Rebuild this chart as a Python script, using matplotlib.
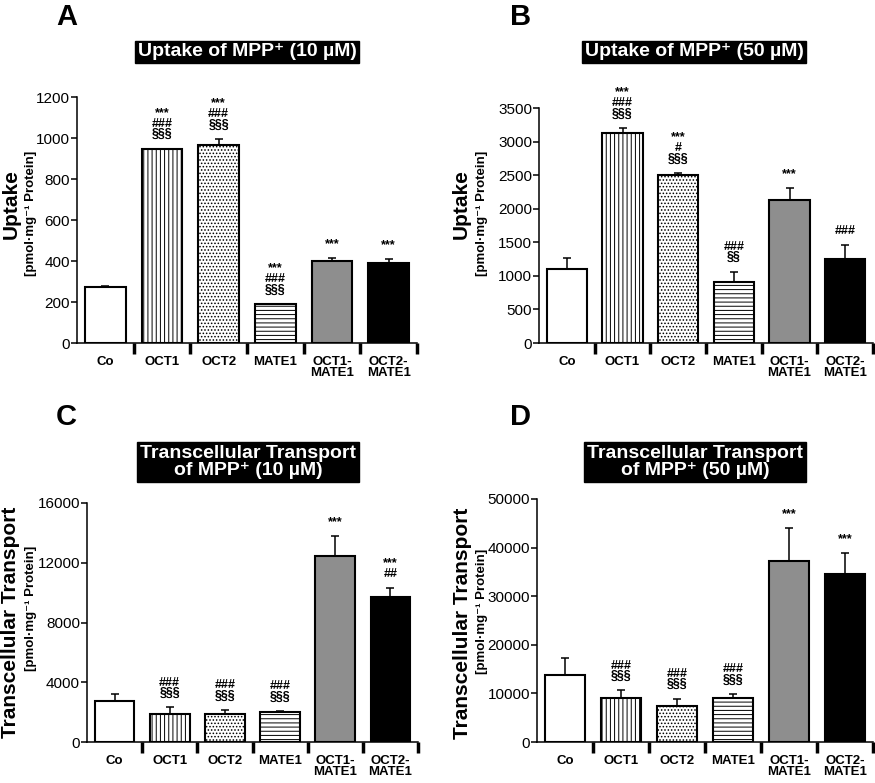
import numpy as np
import matplotlib
matplotlib.use('Agg')
import matplotlib.pyplot as plt

groups = ['Co', 'OCT1', 'OCT2', 'MATE1', 'OCT1-\nMATE1', 'OCT2-\nMATE1']

# A: uptake of MPP+ 10 uM
uptake10_mean = [272, 945, 966, 190, 398, 391]
uptake10_err = [7, 3, 28, 0, 16, 17]
uptake10_sig = ['', '***\n###\n§§§', '***\n###\n§§§', '***\n###\n§§§', '***', '***']

# B: uptake of MPP+ 50 uM
uptake50_mean = [1102, 3135, 2495, 905, 2135, 1255]
uptake50_err = [164, 70, 35, 157, 168, 200]
uptake50_sig = ['', '***\n###\n§§§', '***\n#\n§§§', '###\n§§', '***', '###']

# C: transcellular transport 10 uM
trans10_mean = [2730, 1860, 1900, 2010, 12480, 9730]
trans10_err = [450, 450, 225, 70, 1280, 590]
trans10_sig = ['', '###\n§§§', '###\n§§§', '###\n§§§', '***', '***\n##']

# D: transcellular transport 50 uM
trans50_mean = [13700, 9150, 7500, 9150, 37200, 34650]
trans50_err = [3650, 1450, 1450, 700, 6750, 4200]
trans50_sig = ['', '###\n§§§', '###\n§§§', '###\n§§§', '***', '***']

fills = ['white', 'white', 'white', 'white', '#8e8e8e', 'black']
hatches = [None, '||||', '.....', '----', None, None]

FONT = ['Liberation Sans', 'DejaVu Sans']
plt.rcParams['font.family'] = FONT
plt.rcParams['hatch.linewidth'] = 0.7


def draw_panel(ax, means, errs, sigs, ymax, ystep):
    x = np.arange(len(groups))
    ax.bar(x, means, width=0.72, color=fills, edgecolor='black', linewidth=1.5,
           hatch=hatches, zorder=2)
    ax.errorbar(x, means, yerr=[np.zeros(len(x)), errs], fmt='none', ecolor='black',
                elinewidth=1.1, capsize=3, capthick=1.1, zorder=3)
    for xi, m, e, s in zip(x, means, errs, sigs):
        if s:
            ax.annotate(s, (xi, m + e), xytext=(0, 6), textcoords='offset points',
                        ha='center', va='bottom', fontsize=9, fontweight='bold',
                        linespacing=0.85, family=FONT)
    ax.set_xlim(-0.5, 5.5)
    ax.set_ylim(0, ymax)
    ax.set_yticks(np.arange(0, ymax + 1, ystep))
    ax.set_xticks(x)
    ax.set_xticklabels(groups, fontsize=9.5, fontweight='bold', linespacing=0.95)
    ax.set_xticks(list(x[1:] - 0.5) + [5.5], minor=True)
    ax.tick_params(axis='x', which='major', length=0, pad=9)
    ax.tick_params(axis='x', which='minor', length=8, width=2.5, direction='out')
    ax.tick_params(axis='y', length=4, width=1.1, labelsize=11, pad=1)
    for side in ['top', 'right']:
        ax.spines[side].set_visible(False)
    for side in ['left', 'bottom']:
        ax.spines[side].set_linewidth(1.1)


W, H = 875, 783
fig = plt.figure(figsize=(W / 100, H / 100), dpi=100)


def rect(l, r, t, b):
    return [l / W, 1 - b / H, (r - l) / W, (b - t) / H]


axA = fig.add_axes(rect(77, 417, 97, 343))
axB = fig.add_axes(rect(539, 873, 108, 343))
axC = fig.add_axes(rect(87, 418, 503, 742))
axD = fig.add_axes(rect(537, 873, 499, 742))

draw_panel(axA, uptake10_mean, uptake10_err, uptake10_sig, 1200, 200)
draw_panel(axB, uptake50_mean, uptake50_err, uptake50_sig, 3500, 500)
draw_panel(axC, trans10_mean, trans10_err, trans10_sig, 16000, 4000)
draw_panel(axD, trans50_mean, trans50_err, trans50_sig, 50000, 10000)

# panel letters
for lab, px, py in [('A', 56, 3), ('B', 510, 3), ('C', 56, 403), ('D', 510, 403)]:
    fig.text(px / W, 1 - py / H, lab, fontsize=21, fontweight='bold', va='top', ha='left')

# black title boxes
titles = [('Uptake of MPP⁺ (10 µM)', 247, 52),
          ('Uptake of MPP⁺ (50 µM)', 694, 52),
          ('Transcellular Transport\nof MPP⁺ (10 µM)', 248, 462),
          ('Transcellular Transport\nof MPP⁺ (50 µM)', 695, 462)]
for t, px, py in titles:
    fig.text(px / W, 1 - py / H, t, color='white', fontsize=14, fontweight='bold',
             ha='center', va='center', linespacing=1.05,
             bbox=dict(boxstyle='square,pad=0.15', facecolor='black', edgecolor='black'))

# y labels
unit = '[pmol·mg⁻¹ Protein]'
ylabels = [('Uptake', 11, 204, 31, 213),
           ('Uptake', 461, 204, 482, 213),
           ('Transcellular Transport', 11, 622, 31, 608),
           ('Transcellular Transport', 462, 623, 482, 611)]
for t, x1, y1, x2, y2 in ylabels:
    fig.text(x1 / W, 1 - y1 / H, t, rotation=90, fontsize=15, fontweight='bold',
             ha='center', va='center')
    fig.text(x2 / W, 1 - y2 / H, unit, rotation=90, fontsize=9.5, fontweight='bold',
             ha='center', va='center')

fig.savefig('out.png', dpi=100)
